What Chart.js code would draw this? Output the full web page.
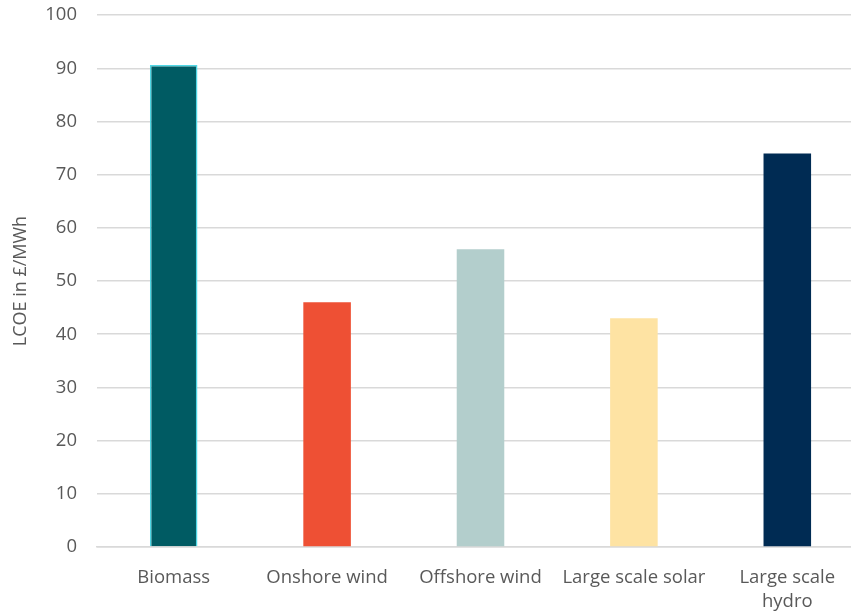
<!DOCTYPE html>
<html>
<head>
<meta charset="utf-8">
<script src="https://cdn.jsdelivr.net/npm/chart.js@4/dist/chart.umd.min.js"></script>
<style>
  html, body { margin: 0; padding: 0; background: #fff; overflow: hidden; }
  #wrap { width: 864px; height: 632px; margin-top: -16px; }
</style>
</head>
<body>
<div id="wrap"><canvas id="lcoeChart" width="864" height="632"></canvas></div>
<script>
const categories = ['Biomass', 'Onshore wind', 'Offshore wind', 'Large scale solar', ['Large scale', 'hydro']];
const lcoeValues = [90.6, 46, 56, 43, 74];
const barColours = ['#005B63', '#EE5034', '#B3CECC', '#FEE3A3', '#002B53'];
const barBorders = ['#4FD8E6', '#EE5034', '#B3CECC', '#FEE3A3', '#002B53'];

const fontFamily = "'Open Sans', 'Liberation Sans', sans-serif";
const textColour = '#595959';

const ctx = document.getElementById('lcoeChart').getContext('2d');
const lcoeChart = new Chart(ctx, {
    type: 'bar',
    data: {
        labels: categories,
        datasets: [{
            label: 'LCOE',
            data: lcoeValues,
            backgroundColor: barColours,
            borderColor: barBorders,
            borderWidth: [1.5, 0, 0, 0, 0],
            barPercentage: 0.31,
            categoryPercentage: 1
        }]
    },
    options: {
        responsive: false,
        animation: false,
        layout: { padding: { top: 0, left: 10, right: 0, bottom: 0 } },
        plugins: {
            legend: { display: false },
            tooltip: { enabled: false }
        },
        scales: {
            x: {
                grid: { display: false },
                border: { color: '#d9d9d9', width: 1.5 },
                ticks: {
                    color: textColour,
                    font: { family: fontFamily, size: 18.5, lineHeight: 1.3 },
                    padding: 11,
                    maxRotation: 0,
                    autoSkip: false
                },
                afterFit: function (scale) { scale.height = 69; }
            },
            y: {
                min: 0,
                max: 100,
                ticks: {
                    stepSize: 10,
                    color: textColour,
                    font: { family: fontFamily, size: 18.5 },
                    padding: 20
                },
                grid: { color: '#d9d9d9', lineWidth: 1.5, drawTicks: false },
                border: { display: false },
                title: {
                    display: true,
                    text: 'LCOE in £/MWh',
                    color: textColour,
                    font: { family: fontFamily, size: 18 },
                    padding: 0
                },
                afterFit: function (scale) { scale.width = 87; }
            }
        }
    }
});
</script>
</body>
</html>
